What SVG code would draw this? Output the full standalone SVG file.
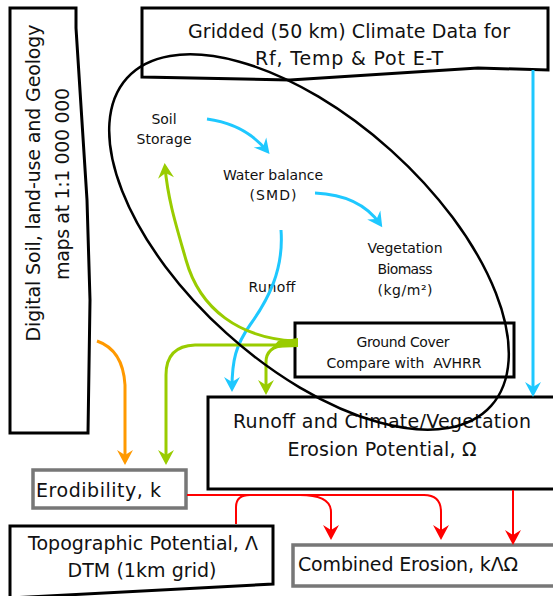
<svg xmlns="http://www.w3.org/2000/svg" width="553" height="596" viewBox="0 0 553 596">
<defs>
<style>
text{font-family:"DejaVu Sans",sans-serif;fill:#111}
.big{font-size:19px}
.sm{font-size:14px}
.mid{text-anchor:middle}
.box{fill:#fff;stroke:#000;stroke-width:3}
.gbox{fill:#fff;stroke:#777;stroke-width:3.5}
.c{fill:none;stroke:#1ec8ff;stroke-width:3}
.g{fill:none;stroke:#99cc00;stroke-width:3}
.o{fill:none;stroke:#ff9900;stroke-width:3}
.r{fill:none;stroke:#ff0000;stroke-width:2}
</style>
<marker id="mc" markerUnits="userSpaceOnUse" markerWidth="17" markerHeight="18" viewBox="-12 -9 17 18" refX="0" refY="0" orient="auto"><path d="M4,0 L-11,-8 L-6,0 L-11,8 Z" fill="#1ec8ff"/></marker>
<marker id="mg" markerUnits="userSpaceOnUse" markerWidth="17" markerHeight="18" viewBox="-12 -9 17 18" refX="0" refY="0" orient="auto"><path d="M4,0 L-11,-8 L-6,0 L-11,8 Z" fill="#99cc00"/></marker>
<marker id="mo" markerUnits="userSpaceOnUse" markerWidth="17" markerHeight="18" viewBox="-12 -9 17 18" refX="0" refY="0" orient="auto"><path d="M4,0 L-11,-8 L-6,0 L-11,8 Z" fill="#ff9900"/></marker>
<marker id="mr" markerUnits="userSpaceOnUse" markerWidth="17" markerHeight="18" viewBox="-12 -9 17 18" refX="0" refY="0" orient="auto"><path d="M4,0 L-11,-8 L-6,0 L-11,8 Z" fill="#ff0000"/></marker>
</defs>
<rect width="553" height="596" fill="#fff"/>

<g id="soil-maps">
<path class="box" d="M10,8 H76 V28 L87,200 L90,300 L88,433 H10 Z"/>
<text class="big mid" transform="translate(40,183) rotate(-90)" textLength="317">Digital Soil, land-use and Geology</text>
<text class="big mid" transform="translate(69,184) rotate(-90)" textLength="192">maps at 1:1 000 000</text>
</g>

<g id="climate-data">
<path class="box" d="M142,8 H548 V70 L478,68 L290,80 L142,77 Z"/>
<text class="big mid" x="349" y="38" textLength="322">Gridded (50 km) Climate Data for</text>
<text class="big mid" x="349" y="65" textLength="188">Rf, Temp &amp; Pot E-T</text>
</g>

<g id="ground-cover">
<rect class="box" x="295" y="323" width="219" height="54" stroke-width="2"/>
<text class="sm mid" x="403" y="347" textLength="93">Ground Cover</text>
<text class="sm mid" x="404" y="368" textLength="155">Compare with&#160; AVHRR</text>
</g>

<g id="erosion-potential">
<rect class="box" x="208" y="397" width="360" height="92"/>
<text class="big mid" x="382" y="428" textLength="298">Runoff and Climate/Vegetation</text>
<text class="big mid" x="382" y="456" textLength="189">Erosion Potential, Ω</text>
</g>

<g id="erodibility">
<rect class="gbox" x="33" y="470" width="153" height="38"/>
<text class="big" x="36" y="497" textLength="125">Erodibility, k</text>
</g>

<g id="topographic">
<path class="box" d="M10,526 H273 V584 L10,598 Z"/>
<text class="big mid" x="143" y="550" textLength="230">Topographic Potential, Λ</text>
<text class="big mid" x="142" y="577" textLength="149">DTM (1km grid)</text>
</g>

<g id="combined">
<rect class="gbox" x="293" y="545" width="280" height="41"/>
<text class="big" x="298" y="571" textLength="220">Combined Erosion, kΛΩ</text>
</g>

<g id="labels">
<text class="sm mid" x="164" y="124">Soil</text>
<text class="sm mid" x="164" y="144" textLength="55">Storage</text>
<text class="sm mid" x="273" y="180" textLength="100">Water balance</text>
<text class="sm mid" x="273" y="200" textLength="47">(SMD)</text>
<text class="sm mid" x="405" y="253" textLength="75">Vegetation</text>
<text class="sm mid" x="405" y="274" textLength="55">Biomass</text>
<text class="sm mid" x="405" y="295" textLength="55">(kg/m²)</text>
<text class="sm mid" x="272" y="292" textLength="47">Runoff</text>
</g>

<g id="connectors">
<path class="c" d="M533,70 V393" marker-end="url(#mc)"/>
<path class="c" d="M207,119 Q245,124 267,151" marker-end="url(#mc)"/>
<path class="c" d="M315,193 Q360,195 380,224" marker-end="url(#mc)"/>
<path class="c" d="M281,230 C284,270 268,300 250,325 C236,345 232,360 232,388" marker-end="url(#mc)"/>
<path class="g" d="M295,341 C240,338 200,310 186,260 C176,225 168,200 165,167" marker-end="url(#mg)"/>
<path class="g" d="M295,345 H195 Q166,346 166,375 V461" marker-end="url(#mg)"/>
<path class="g" d="M285,345 Q266,347 266,362 V391" marker-end="url(#mg)"/>
<path fill="#99cc00" d="M298,338 L298,347 L272,348 L278,341 Z"/>
<path class="o" d="M97,341 Q123,350 125,385 V461" marker-end="url(#mo)"/>
<path class="r" d="M187,495 H424 Q441,495 441,512 V536" marker-end="url(#mr)"/>
<path class="r" d="M300,495 Q331,495 331,512 V536" marker-end="url(#mr)"/>
<path class="r" stroke-width="2.5" d="M236,524 V507 Q236,495 250,495 H265"/>
<path class="r" stroke-width="3" d="M513,490 V541" marker-end="url(#mr)"/>
</g>

<g id="model-boundary">
<ellipse cx="309" cy="242" rx="245" ry="123" transform="rotate(42 309 242)" fill="none" stroke="#000" stroke-width="2.5"/>
</g>
</svg>
